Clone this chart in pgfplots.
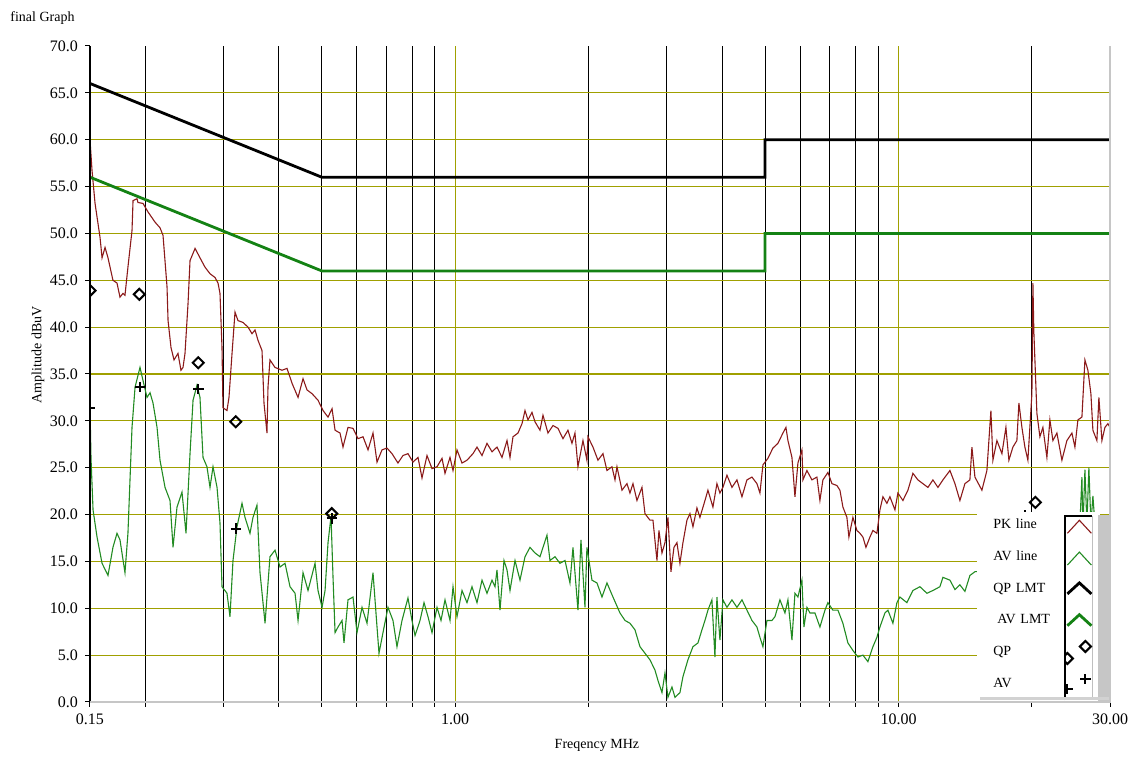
\documentclass[border=0pt]{standalone}
\usepackage{fontspec}
\setmainfont{Liberation Serif}
\usepackage{pgfplots}
\pgfplotsset{compat=1.18}
\definecolor{pkred}{RGB}{139,26,26}
\definecolor{avgreen}{RGB}{34,139,34}
\definecolor{lmtgreen}{RGB}{20,130,20}
\definecolor{gridolive}{RGB}{160,160,0}
\begin{document}
\begin{tikzpicture}
\path[use as bounding box] (-45pt,-28pt) rectangle (520.5pt,351pt);
\begin{axis}[
  at={(0pt,0pt)}, anchor=south west,
  scale only axis, width=510pt, height=328pt,
  xmode=log, xmin=0.15, xmax=30, ymin=0, ymax=70,
  clip mode=individual, clip marker paths=true,
  axis line style={draw=none},
  tick align=outside, xtick pos=bottom, ytick pos=left,
  major tick length=2.5pt,
  tick style={black, line width=0.5pt},
  minor tick num=0, minor xtick={},
  xtick={0.15,0.2,0.3,0.4,0.5,0.6,0.7,0.8,0.9,2,3,4,5,6,7,8,9,20,30},
  xticklabels={0.15,,,,,,,,,,,,,,,,,,30.00},
  extra x ticks={1,10},
  extra x tick labels={1.00,10.00},
  extra x tick style={xmajorgrids=true, major grid style={draw=gridolive, line width=0.6pt}},
  xmajorgrids=true,
  major grid style={draw=black, line width=0.5pt},
  ytick={0,5,10,15,20,25,30,35,40,45,50,55,60,65,70},
  yticklabel style={/pgf/number format/.cd, fixed, fixed zerofill, precision=1, assume math mode=true},
  extra y ticks={5,10,15,20,25,30,35,40,45,50,55,60,65},
  extra y tick labels={,,,,,,,,,,,,},
  extra y tick style={ymajorgrids=true, major tick length=0pt, major grid style={draw=gridolive, line width=0.6pt}},
  tick label style={font=\fontsize{8}{9}\selectfont},
  label style={font=\fontsize{7}{8}\selectfont},
  xlabel={Freqency MHz}, ylabel={Amplitude dBuV},
  xlabel style={at={(axis description cs:0.497,-0.0655)}, anchor=center},
  ylabel style={at={(axis description cs:-0.051,0.529)}, anchor=center},
  legend plot pos=right,
  legend cell align=left,
  legend style={at={(axis description cs:0.8696,0.2942)}, anchor=north west,
    draw=none, fill=none, inner xsep=8pt, inner ysep=0pt,
    row sep=0pt, column sep=0pt,
    font=\fontsize{7}{8}\selectfont,
    nodes={inner xsep=0pt, inner ysep=0pt, text width=36pt, align=left, minimum height=15.9pt}},
]
% PK line
\addplot[pkred, line width=0.55pt, mark=none,
  legend image code/.code={\path[draw=none,fill=none] (0pt,-7.95pt) rectangle (17.5pt,7.95pt); \draw (1pt,-4pt) -- (7pt,2.5pt) -- (13pt,-4pt);}]
coordinates {(0.150,60.0)(0.1516,56.7)(0.1540,53.2)(0.158,49.6)(0.1597,47.4)(0.1622,48.5)(0.1647,47.4)(0.1690,45.0)(0.1726,44.7)(0.1753,43.2)(0.1781,43.6)(0.1799,43.4)(0.1827,46.4)(0.1866,50.3)(0.1876,53.5)(0.1915,53.7)(0.1925,53.3)(0.1976,53.2)(0.2027,52.3)(0.2103,51.2)(0.2158,50.6)(0.2192,49.8)(0.2238,44.3)(0.2250,40.7)(0.2285,37.8)(0.2321,36.5)(0.2369,37.2)(0.2406,35.4)(0.2432,35.7)(0.2457,37.2)(0.2496,42.5)(0.2522,47.1)(0.2589,48.4)(0.2656,47.4)(0.2726,46.4)(0.2798,45.7)(0.2872,45.3)(0.2917,44.7)(0.2947,43.6)(0.2978,37.8)(0.2993,31.4)(0.3056,31.1)(0.3088,32.5)(0.3137,37.2)(0.3186,41.6)(0.3236,40.7)(0.3321,40.5)(0.3409,40.0)(0.3480,39.3)(0.3535,39.7)(0.3590,38.6)(0.3666,37.5)(0.3704,31.9)(0.3762,28.7)(0.3782,33.6)(0.3821,36.5)(0.3922,35.7)(0.4067,35.4)(0.4174,35.6)(0.4285,34.0)(0.4420,32.5)(0.4536,34.5)(0.4631,33.3)(0.4753,32.9)(0.4903,32.2)(0.5033,31.1)(0.5165,30.4)(0.5274,31.3)(0.5357,29.0)(0.5497,28.7)(0.5583,27.2)(0.5730,29.3)(0.5881,29.2)(0.6036,28.1)(0.6195,28.3)(0.6358,26.9)(0.6525,28.7)(0.6662,25.6)(0.6837,26.9)(0.7016,27.1)(0.7202,26.5)(0.7429,25.5)(0.7625,26.3)(0.7825,26.5)(0.8031,25.6)(0.8242,26.1)(0.8416,23.9)(0.8637,26.3)(0.8865,24.9)(0.9098,25.1)(0.9337,26.0)(0.9484,24.4)(0.9733,26.1)(0.9886,24.7)(1.0093,26.9)(1.0360,25.5)(1.0631,25.8)(1.0968,26.5)(1.1198,27.2)(1.1493,26.3)(1.1795,27.6)(1.2106,26.7)(1.2423,27.2)(1.2752,26.1)(1.3086,27.9)(1.3292,26.1)(1.3501,28.3)(1.3856,28.7)(1.4147,29.7)(1.4370,31.1)(1.4594,30.1)(1.4901,30.9)(1.5135,29.9)(1.5532,29.0)(1.5776,30.6)(1.6191,28.7)(1.6617,29.5)(1.7054,29.2)(1.7503,28.1)(1.7963,29.0)(1.8342,27.6)(1.8630,28.7)(1.8921,25.1)(1.9418,27.9)(1.9825,25.8)(1.9929,28.3)(2.0453,27.2)(2.0991,25.8)(2.1544,26.5)(2.1996,24.7)(2.2576,25.1)(2.2931,23.7)(2.3168,25.1)(2.3779,22.6)(2.4403,23.3)(2.4787,22.3)(2.5176,23.3)(2.5704,21.5)(2.6382,22.9)(2.6797,20.1)(2.7500,19.4)(2.7932,19.4)(2.8518,15.1)(2.8815,18.3)(2.9270,15.9)(2.9731,17.0)(3.0194,19.7)(3.0669,13.9)(3.1151,16.5)(3.1639,17.0)(3.2136,14.8)(3.2641,17.0)(3.3325,19.4)(3.3849,20.1)(3.4381,18.7)(3.5101,20.7)(3.5654,19.7)(3.6595,21.5)(3.7166,22.6)(3.8144,20.8)(3.8943,23.3)(3.9556,22.3)(4.0177,22.9)(4.1020,24.2)(4.2103,22.9)(4.3207,23.7)(4.4347,21.9)(4.5510,23.7)(4.6710,24.0)(4.7935,23.3)(4.8689,22.3)(4.9453,25.3)(5.0753,26.0)(5.2090,27.1)(5.3460,27.6)(5.4867,28.7)(5.5731,29.3)(5.6310,27.9)(5.7495,26.1)(5.8400,21.9)(5.9311,25.5)(6.0561,26.9)(6.0873,23.7)(6.2149,24.7)(6.3789,23.7)(6.5462,24.0)(6.6492,21.5)(6.7536,23.7)(6.9311,24.5)(7.0771,23.3)(7.2627,23.1)(7.3770,22.6)(7.4928,20.8)(7.6500,19.7)(7.7296,17.6)(7.8922,19.7)(8.0577,18.3)(8.1845,18.0)(8.3130,17.6)(8.4440,16.5)(8.6208,17.6)(8.7561,18.3)(8.9398,18.0)(9.0803,20.5)(9.2229,21.9)(9.4163,21.2)(9.5644,21.9)(9.8169,20.5)(9.9700,22.3)(10.232,21.5)(10.501,22.6)(10.778,24.4)(11.061,23.7)(11.352,23.3)(11.651,22.9)(11.958,23.7)(12.272,22.9)(12.596,23.7)(13.062,24.7)(13.407,23.3)(13.758,21.5)(14.121,23.3)(14.491,23.7)(14.643,27.2)(14.874,24.0)(15.424,22.6)(15.829,24.7)(16.162,31.1)(16.331,25.8)(16.673,27.9)(17.113,26.5)(17.472,29.3)(17.745,25.8)(18.118,27.2)(18.498,27.9)(18.691,31.9)(18.986,29.3)(19.285,27.2)(19.586,25.8)(19.998,32.9)(20.101,44.7)(20.20,39.5)(20.312,36.5)(20.522,30.8)(20.845,28.3)(21.172,29.3)(21.616,26.1)(21.957,30.1)(22.302,27.9)(22.769,28.7)(23.370,25.8)(23.983,27.9)(24.616,28.7)(25.003,27.2)(25.393,30.1)(25.928,30.4)(26.336,36.5)(26.747,35.4)(27.168,32.9)(27.451,29.0)(28.027,27.9)(28.319,32.5)(28.767,27.9)(29.220,29.3)(29.675,29.7)(30.0,29.3)};
% AV line
\addplot[avgreen, line width=0.55pt, mark=none,
  legend image code/.code={\path[draw=none,fill=none] (0pt,-7.95pt) rectangle (17.5pt,7.95pt); \draw (1pt,-4pt) -- (7pt,2.5pt) -- (13pt,-4pt);}]
coordinates {(0.150,31.5)(0.1508,26.0)(0.1524,20.5)(0.1556,17.6)(0.1597,14.8)(0.1647,13.5)(0.1690,16.5)(0.1726,18.0)(0.1753,17.3)(0.1799,13.8)(0.1827,18.0)(0.1866,29.3)(0.1896,33.6)(0.1945,35.7)(0.1976,34.3)(0.2017,32.5)(0.2049,33.0)(0.2081,31.9)(0.2125,29.3)(0.2158,25.8)(0.2215,22.9)(0.2273,21.5)(0.2309,16.5)(0.2357,20.8)(0.2419,22.4)(0.2470,18.0)(0.2522,26.5)(0.2562,32.2)(0.2615,33.8)(0.2656,32.5)(0.2698,26.1)(0.2754,25.1)(0.2798,22.9)(0.2842,25.1)(0.2902,22.9)(0.2947,19.1)(0.2978,12.3)(0.3056,11.6)(0.3104,9.1)(0.3153,15.1)(0.3219,18.7)(0.3304,21.2)(0.3356,19.7)(0.3444,18.0)(0.3498,19.7)(0.3571,21.0)(0.3628,13.8)(0.3724,8.4)(0.3821,15.5)(0.3922,16.2)(0.4025,14.4)(0.4131,14.8)(0.4240,12.3)(0.4352,11.6)(0.4420,8.7)(0.4536,13.8)(0.4655,11.9)(0.4828,14.8)(0.4903,11.9)(0.5007,10.1)(0.5086,11.9)(0.5165,17.0)(0.5246,19.8)(0.5301,13.3)(0.5357,7.4)(0.5440,8.0)(0.5555,8.7)(0.5612,6.3)(0.5730,10.9)(0.5881,11.2)(0.6004,7.4)(0.6163,10.1)(0.6325,8.4)(0.6525,13.8)(0.6662,8.0)(0.6731,5.2)(0.6872,7.4)(0.7053,10.1)(0.7239,8.7)(0.7391,5.9)(0.7586,8.7)(0.7825,11.1)(0.7990,8.7)(0.8116,7.1)(0.8329,8.7)(0.8504,10.6)(0.8682,9.1)(0.8865,7.4)(0.9098,10.1)(0.9288,8.7)(0.9484,10.9)(0.9733,8.7)(0.9886,12.3)(1.0093,9.1)(1.0360,11.9)(1.0631,10.6)(1.0911,12.3)(1.1198,10.6)(1.1493,13.0)(1.1795,11.6)(1.2106,13.0)(1.2296,12.3)(1.2423,14.1)(1.2619,9.8)(1.2884,15.1)(1.3086,14.1)(1.3292,11.9)(1.3643,15.1)(1.4000,13.0)(1.4370,15.5)(1.4746,16.5)(1.5135,15.9)(1.5532,15.5)(1.6107,17.8)(1.6360,15.1)(1.6792,15.5)(1.7232,14.8)(1.7687,15.1)(1.8151,12.7)(1.8436,16.5)(1.8921,9.8)(1.9217,17.3)(1.9623,10.1)(1.9825,16.5)(2.0348,13.0)(2.0882,12.7)(2.1434,11.2)(2.1996,12.7)(2.2692,11.2)(2.3532,9.5)(2.4153,8.7)(2.4787,8.4)(2.5441,7.7)(2.6108,5.9)(2.6797,5.2)(2.7500,4.5)(2.8226,3.4)(2.8666,2.3)(2.9270,1.0)(2.9731,3.1)(3.0194,0.5)(3.0830,1.6)(3.1315,0.5)(3.2136,1.0)(3.2641,2.7)(3.3499,4.5)(3.4381,5.9)(3.5284,6.3)(3.6028,7.7)(3.6595,8.7)(3.7166,9.8)(3.7948,10.9)(3.8545,4.8)(3.8943,11.2)(3.9556,6.6)(4.0177,10.9)(4.1020,10.1)(4.2103,10.9)(4.3207,10.1)(4.4347,10.9)(4.5510,9.8)(4.6710,8.7)(4.7935,8.0)(4.8689,6.9)(4.9453,5.9)(5.0491,8.7)(5.1823,8.7)(5.2639,9.1)(5.4019,10.9)(5.5445,9.5)(5.6310,10.9)(5.7495,6.6)(5.8400,11.6)(5.9311,11.2)(6.0561,13.0)(6.1191,8.0)(6.2149,10.1)(6.3126,9.5)(6.4793,9.5)(6.6492,8.0)(6.8247,9.8)(6.9311,10.6)(7.1136,9.8)(7.3006,9.8)(7.4928,8.4)(7.6898,6.3)(7.8922,5.5)(8.0996,4.8)(8.3130,5.0)(8.5315,4.3)(8.7561,5.9)(8.9398,6.9)(9.0803,8.0)(9.3200,9.5)(9.4653,9.8)(9.7146,8.4)(9.9183,10.6)(10.074,11.2)(10.447,10.6)(10.778,11.9)(11.177,12.3)(11.591,11.6)(11.958,11.9)(12.401,12.3)(12.596,13.3)(13.062,13.0)(13.407,12.0)(13.758,12.5)(14.121,11.8)(14.491,13.5)(14.874,13.9)(15.667,14.0)(16.503,14.5)(17.382,15.0)(18.309,15.5)(19.285,16.0)(19.998,19.0)(20.312,16.5)(21.395,16.5)(22.537,17.0)(23.738,17.5)(25.003,18.0)(25.659,19.0)(25.928,24.0)(26.062,18.5)(26.336,24.8)(26.608,19.0)(26.885,25.0)(27.168,19.0)(27.451,22.0)(27.741,19.0)(28.468,18.0)(30.0,18.0)};
% QP limit
\addplot[black, line width=1.4pt, mark=none,
  legend image code/.code={\path[draw=none,fill=none] (0pt,-7.95pt) rectangle (17.5pt,7.95pt); \draw (1pt,-2.5pt) -- (7pt,3pt) -- (13pt,-2.5pt);}]
coordinates {(0.15,66)(0.5,56)(5,56)(5,60)(30,60)};
% AV limit
\addplot[lmtgreen, line width=1.4pt, mark=none,
  legend image code/.code={\path[draw=none,fill=none] (0pt,-7.95pt) rectangle (17.5pt,7.95pt); \draw (1pt,-2.5pt) -- (7pt,3pt) -- (13pt,-2.5pt);}]
coordinates {(0.15,56)(0.5,46)(5,46)(5,50)(30,50)};
% QP points
\addplot[black, only marks, mark=square, mark size=1.95pt, mark options={rotate=45, fill=none}, line width=1pt,
  legend image code/.code={\path[draw=none,fill=none] (0pt,-7.95pt) rectangle (17.5pt,7.95pt); \begin{scope}\clip[draw=none] (0pt,-7.95pt) rectangle (17.5pt,7.95pt); \draw plot[only marks] coordinates {(1pt,-3pt) (10pt,3pt)};\end{scope}}]
coordinates {(0.150,43.9)(0.1938,43.5)(0.2633,36.2)(0.3198,29.9)(0.5266,20.1)(20.36,21.3)};
% AV points
\addplot[black, only marks, mark=+, mark size=2.6pt, line width=1pt,
  legend image code/.code={\path[draw=none,fill=none] (0pt,-7.95pt) rectangle (17.5pt,7.95pt); \begin{scope}\clip[draw=none] (0pt,-7.95pt) rectangle (17.5pt,7.95pt); \draw plot[only marks] coordinates {(1pt,-2.5pt) (10pt,2.5pt)};\end{scope}}]
coordinates {(0.150,31.4)(0.1945,33.6)(0.2633,33.4)(0.3203,18.5)(0.5266,19.6)(19.3,19.9)};
\legend{PK line, AV line, QP LMT, \hspace{2pt}AV LMT, QP, AV}
% legend box decorations
\fill[white] (rel axis cs:0.8696,0) rectangle (rel axis cs:0.9902,0.2896);
\draw[black, line width=0.7pt] (rel axis cs:0.9559,0.003) -- (rel axis cs:0.9559,0.2835) -- (rel axis cs:0.9824,0.2835);
\draw[gray!50, line width=0.5pt] (rel axis cs:0.9824,0.2835) -- (rel axis cs:0.9824,0.003);
\fill[gray!45] (rel axis cs:0.9882,0) rectangle (rel axis cs:1,0.2851);
\fill[gray!35] (rel axis cs:0.873,0.003) rectangle (rel axis cs:1,0.0076);
% frame
\draw[black, line width=0.7pt] (rel axis cs:0,0) -- (rel axis cs:0,1);
\draw[gray!45, line width=0.8pt] (rel axis cs:0,0) -- (rel axis cs:1,0) -- (rel axis cs:1,1);
\end{axis}
\node[anchor=base west, font=\fontsize{7}{8}\selectfont, inner sep=0pt] at (-40pt,340pt) {final Graph};
\end{tikzpicture}
\end{document}
